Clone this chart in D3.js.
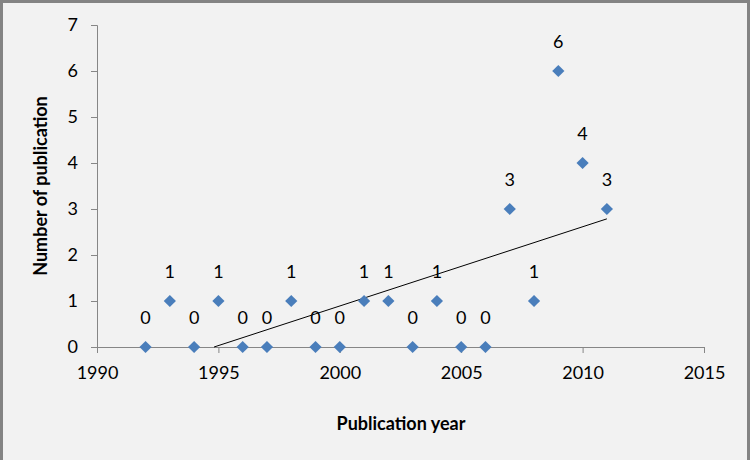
<!DOCTYPE html>
<html>
<head>
<meta charset="utf-8">
<script src="https://cdn.jsdelivr.net/npm/d3@7"></script>
<style>
  body { margin: 0; background: #fff; }
  svg { display: block; font-family: "Lato", "Open Sans", sans-serif; }
</style>
</head>
<body>
<svg id="chart"></svg>
<script>
const years = [1992, 1993, 1994, 1995, 1996, 1997, 1998, 1999, 2000, 2001,
               2002, 2003, 2004, 2005, 2006, 2007, 2008, 2009, 2010, 2011];
const counts = [0, 1, 0, 1, 0, 0, 1, 0, 0, 1, 1, 0, 1, 0, 0, 3, 1, 6, 4, 3];
const xTicks = [1990, 1995, 2000, 2005, 2010, 2015];
const yTicks = [0, 1, 2, 3, 4, 5, 6, 7];

const width = 750, height = 460;
const svg = d3.select("#chart").attr("width", width).attr("height", height);

// fond gris + cadre
svg.append("rect").attr("width", width).attr("height", height).attr("fill", "#f2f2f2");
svg.append("path")
  .attr("d", `M1.5,${height} V1.5 H${width - 1.5} V${height}`)
  .attr("fill", "none").attr("stroke", "#848484").attr("stroke-width", 3);

const x = d3.scaleLinear().domain([1990, 2015]).range([97, 704]);
const y = d3.scaleLinear().domain([0, 7]).range([347, 25]);

const axisColor = "#868686";

const gx = svg.append("g").attr("transform", `translate(0,${y(0)})`)
  .call(d3.axisBottom(x).tickValues(xTicks).tickFormat(d3.format("d")).tickSize(6).tickPadding(13));
const gy = svg.append("g").attr("transform", `translate(${x(1990)},0)`)
  .call(d3.axisLeft(y).tickValues(yTicks).tickFormat(d3.format("d")).tickSize(6).tickPadding(13));

[gx, gy].forEach(g => {
  g.select(".domain").attr("stroke", axisColor);
  g.selectAll(".tick line").attr("stroke", axisColor);
  g.selectAll(".tick text").attr("fill", "#000").style("font-size", "18px")
    .style("font-family", "Lato, 'Open Sans', sans-serif");
});

// droite de tendance (régression linéaire)
const mx = d3.mean(years), my = d3.mean(counts);
const slope = d3.sum(years, (v, i) => (v - mx) * (counts[i] - my)) / d3.sum(years, v => (v - mx) ** 2);
const icpt = my - slope * mx;
let x0 = d3.min(years);
if (slope * x0 + icpt < 0) x0 = -icpt / slope;
const x1 = d3.max(years);
svg.append("line")
  .attr("x1", x(x0)).attr("y1", y(slope * x0 + icpt))
  .attr("x2", x(x1)).attr("y2", y(slope * x1 + icpt))
  .attr("stroke", "#000").attr("stroke-width", 1);

// points
const pts = years.map((yr, i) => ({ yr, n: counts[i] }));
svg.selectAll(".pt").data(pts).join("path")
  .attr("class", "pt")
  .attr("d", d3.symbol(d3.symbolDiamond2, 95)())
  .attr("transform", d => `translate(${x(d.yr)},${y(d.n)})`)
  .attr("fill", "#4a7ebb");

svg.selectAll(".lbl").data(pts).join("text")
  .attr("class", "lbl")
  .attr("x", d => x(d.yr))
  .attr("y", d => y(d.n) - 23)
  .attr("text-anchor", "middle")
  .style("font-size", "18px")
  .text(d => d.n);

// titres des axes
svg.append("text")
  .attr("transform", `translate(47,186) rotate(-90)`)
  .attr("text-anchor", "middle")
  .style("font-size", "18px").style("font-weight", "bold")
  .text("Number of publication");
svg.append("text")
  .attr("x", 401).attr("y", 430)
  .attr("text-anchor", "middle")
  .style("font-size", "18px").style("font-weight", "bold")
  .text("Publication year");
</script>
</body>
</html>
